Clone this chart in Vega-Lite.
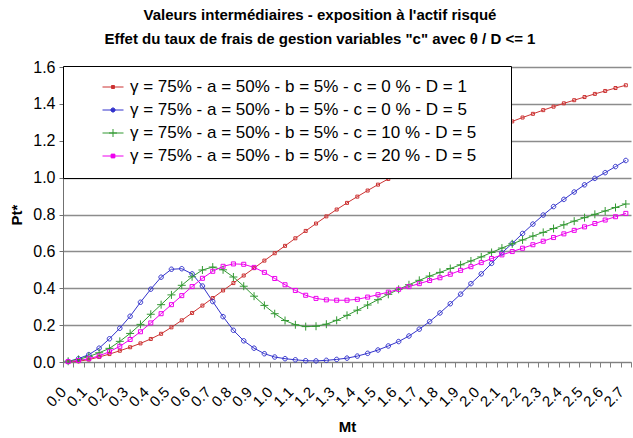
{
  "$schema": "https://vega.github.io/schema/vega-lite/v6.json",
  "width": 568,
  "height": 295,
  "autosize": {"type": "none"},
  "padding": {"left": 63, "top": 67, "right": 2, "bottom": 76},
  "background": "white",
  "title": {
    "text": ["Valeurs intermédiaires - exposition à l'actif risqué", "Effet du taux de frais de gestion variables \"c\" avec θ / D <= 1"],
    "anchor": "middle",
    "frame": "group",
    "dx": -27,
    "offset": 12,
    "fontSize": 15,
    "fontWeight": "bold",
    "font": "Liberation Sans",
    "lineHeight": 24,
    "color": "black"
  },
  "datasets": {
    "series": [
      {"key": "r", "serie": "γ = 75% - a = 50% - b = 5% - c = 0 % - D = 1"},
      {"key": "b", "serie": "γ = 75% - a = 50% - b = 5% - c = 0 % - D = 5"},
      {"key": "g", "serie": "γ = 75% - a = 50% - b = 5% - c = 10 % - D = 5"},
      {"key": "m", "serie": "γ = 75% - a = 50% - b = 5% - c = 20 % - D = 5"}
    ],
    "main": [
      {"Mt": 0, "r": 0.000, "b": 0.003, "g": 0.004, "m": 0.002},
      {"Mt": 0.05, "r": 0.004, "b": 0.018, "g": 0.014, "m": 0.008},
      {"Mt": 0.1, "r": 0.013, "b": 0.040, "g": 0.030, "m": 0.018},
      {"Mt": 0.15, "r": 0.027, "b": 0.075, "g": 0.050, "m": 0.033},
      {"Mt": 0.2, "r": 0.043, "b": 0.126, "g": 0.074, "m": 0.056},
      {"Mt": 0.25, "r": 0.061, "b": 0.183, "g": 0.112, "m": 0.085},
      {"Mt": 0.3, "r": 0.080, "b": 0.248, "g": 0.155, "m": 0.122},
      {"Mt": 0.35, "r": 0.101, "b": 0.324, "g": 0.204, "m": 0.164},
      {"Mt": 0.4, "r": 0.125, "b": 0.395, "g": 0.259, "m": 0.212},
      {"Mt": 0.45, "r": 0.153, "b": 0.460, "g": 0.311, "m": 0.262},
      {"Mt": 0.5, "r": 0.188, "b": 0.503, "g": 0.364, "m": 0.311},
      {"Mt": 0.55, "r": 0.226, "b": 0.506, "g": 0.416, "m": 0.360},
      {"Mt": 0.6, "r": 0.266, "b": 0.478, "g": 0.462, "m": 0.409},
      {"Mt": 0.65, "r": 0.306, "b": 0.412, "g": 0.499, "m": 0.454},
      {"Mt": 0.7, "r": 0.347, "b": 0.328, "g": 0.515, "m": 0.492},
      {"Mt": 0.75, "r": 0.388, "b": 0.246, "g": 0.500, "m": 0.519},
      {"Mt": 0.8, "r": 0.428, "b": 0.172, "g": 0.461, "m": 0.532},
      {"Mt": 0.85, "r": 0.469, "b": 0.115, "g": 0.411, "m": 0.530},
      {"Mt": 0.9, "r": 0.509, "b": 0.075, "g": 0.357, "m": 0.513},
      {"Mt": 0.95, "r": 0.550, "b": 0.045, "g": 0.307, "m": 0.486},
      {"Mt": 1, "r": 0.590, "b": 0.027, "g": 0.262, "m": 0.453},
      {"Mt": 1.05, "r": 0.630, "b": 0.018, "g": 0.225, "m": 0.419},
      {"Mt": 1.1, "r": 0.671, "b": 0.012, "g": 0.202, "m": 0.388},
      {"Mt": 1.15, "r": 0.711, "b": 0.007, "g": 0.192, "m": 0.362},
      {"Mt": 1.2, "r": 0.751, "b": 0.006, "g": 0.194, "m": 0.345},
      {"Mt": 1.25, "r": 0.790, "b": 0.009, "g": 0.205, "m": 0.337},
      {"Mt": 1.3, "r": 0.827, "b": 0.014, "g": 0.226, "m": 0.335},
      {"Mt": 1.35, "r": 0.863, "b": 0.021, "g": 0.253, "m": 0.335},
      {"Mt": 1.4, "r": 0.897, "b": 0.032, "g": 0.281, "m": 0.340},
      {"Mt": 1.45, "r": 0.930, "b": 0.047, "g": 0.309, "m": 0.352},
      {"Mt": 1.5, "r": 0.962, "b": 0.065, "g": 0.338, "m": 0.365},
      {"Mt": 1.55, "r": 0.993, "b": 0.087, "g": 0.367, "m": 0.379},
      {"Mt": 1.6, "r": 1.024, "b": 0.111, "g": 0.394, "m": 0.394},
      {"Mt": 1.65, "r": 1.054, "b": 0.141, "g": 0.419, "m": 0.409},
      {"Mt": 1.7, "r": 1.083, "b": 0.178, "g": 0.443, "m": 0.425},
      {"Mt": 1.75, "r": 1.111, "b": 0.219, "g": 0.466, "m": 0.442},
      {"Mt": 1.8, "r": 1.138, "b": 0.266, "g": 0.486, "m": 0.457},
      {"Mt": 1.85, "r": 1.164, "b": 0.316, "g": 0.507, "m": 0.476},
      {"Mt": 1.9, "r": 1.189, "b": 0.368, "g": 0.527, "m": 0.497},
      {"Mt": 1.95, "r": 1.213, "b": 0.425, "g": 0.548, "m": 0.517},
      {"Mt": 2, "r": 1.237, "b": 0.478, "g": 0.570, "m": 0.539},
      {"Mt": 2.05, "r": 1.260, "b": 0.535, "g": 0.594, "m": 0.561},
      {"Mt": 2.1, "r": 1.283, "b": 0.592, "g": 0.618, "m": 0.581},
      {"Mt": 2.15, "r": 1.305, "b": 0.643, "g": 0.641, "m": 0.599},
      {"Mt": 2.2, "r": 1.326, "b": 0.697, "g": 0.662, "m": 0.617},
      {"Mt": 2.25, "r": 1.346, "b": 0.748, "g": 0.683, "m": 0.636},
      {"Mt": 2.3, "r": 1.366, "b": 0.797, "g": 0.703, "m": 0.655},
      {"Mt": 2.35, "r": 1.385, "b": 0.843, "g": 0.724, "m": 0.675},
      {"Mt": 2.4, "r": 1.403, "b": 0.882, "g": 0.744, "m": 0.695},
      {"Mt": 2.45, "r": 1.420, "b": 0.922, "g": 0.764, "m": 0.714},
      {"Mt": 2.5, "r": 1.437, "b": 0.961, "g": 0.783, "m": 0.733},
      {"Mt": 2.55, "r": 1.454, "b": 0.996, "g": 0.801, "m": 0.751},
      {"Mt": 2.6, "r": 1.470, "b": 1.027, "g": 0.819, "m": 0.770},
      {"Mt": 2.65, "r": 1.486, "b": 1.060, "g": 0.838, "m": 0.788},
      {"Mt": 2.7, "r": 1.501, "b": 1.093, "g": 0.857, "m": 0.806}
    ]
  },
  "data": {"name": "main"},
  "transform": [
    {"fold": ["r", "b", "g", "m"], "as": ["key", "Pt"]},
    {"lookup": "key", "from": {"data": {"name": "series"}, "key": "key", "fields": ["serie"]}}
  ],
  "encoding": {
    "x": {
      "field": "Mt",
      "type": "ordinal",
      "bandPosition": 0.5,
      "scale": {"type": "band", "paddingInner": 0, "paddingOuter": 0},
      "axis": {
        "title": "Mt",
        "tickBand": "extent",
        "labelExpr": "round(datum.value * 20) % 2 == 0 ? format(datum.value, '.1f') : ''",
        "labelAngle": -45,
        "labelAlign": "right",
        "labelBaseline": "middle",
        "labelOverlap": false,
        "labelPadding": 22,
        "labelOffset": -5,
        "labelFontSize": 15,
        "tickSize": 5,
        "titleFontSize": 15,
        "titleFontWeight": "bold",
        "titlePadding": 10,
        "domainColor": "#808080",
        "tickColor": "#808080",
        "grid": false
      }
    },
    "y": {
      "field": "Pt",
      "type": "quantitative",
      "scale": {"domain": [0, 1.6], "nice": false},
      "axis": {
        "title": "Pt*",
        "values": [0, 0.2, 0.4, 0.6, 0.8, 1.0, 1.2, 1.4, 1.6],
        "format": ".1f",
        "grid": true,
        "gridColor": "#8c8c8c",
        "gridWidth": 1.5,
        "tickSize": 4,
        "labelPadding": 4,
        "labelFontSize": 16,
        "titleFontSize": 15,
        "titleFontWeight": "bold",
        "titlePadding": 8,
        "domainColor": "#707070",
        "tickColor": "#707070"
      }
    }
  },
  "layer": [
    {
      "mark": {"type": "line", "strokeWidth": 1},
      "encoding": {
        "color": {
          "field": "serie",
          "type": "nominal",
          "scale": {
            "domain": [
              "γ = 75% - a = 50% - b = 5% - c = 0 % - D = 1",
              "γ = 75% - a = 50% - b = 5% - c = 0 % - D = 5",
              "γ = 75% - a = 50% - b = 5% - c = 10 % - D = 5",
              "γ = 75% - a = 50% - b = 5% - c = 20 % - D = 5"
            ],
            "range": ["#cc3333", "#3333cc", "#339933", "#ee00ee"]
          },
          "legend": {
            "title": [" ", " "],
            "titleOrient": "right",
            "titleFontSize": 4,
            "titleLineHeight": 88,
            "titleBaseline": "top",
            "titleAnchor": "start",
            "titlePadding": 25,
            "orient": "none",
            "legendX": 0,
            "legendY": -1,
            "direction": "vertical",
            "fillColor": "white",
            "strokeColor": "black",
            "padding": 10,
            "cornerRadius": 0,
            "labelFontSize": 17,
            "labelColor": "black",
            "labelLimit": 700,
            "labelOffset": 6,
            "symbolOffset": 29,
            "symbolSize": 441,
            "symbolStrokeWidth": 1,
            "rowPadding": 4,
            "encode": {
              "symbols": {
                "update": {
                  "shape": {"signal": "datum.index == 0 ? 'M-1,0H1M-0.14,-0.14H0.14V0.14H-0.14Z' : datum.index == 1 ? 'M-1,0H1M0.2,0A0.2,0.2,0,1,1,-0.2,0A0.2,0.2,0,1,1,0.2,0' : datum.index == 2 ? 'M-1,0H1M0,-0.38V0.38M-0.38,0H0.38' : 'M-1,0H1M-0.18,-0.18H0.18V0.18H-0.18Z'"},
                  "fill": {"scale": "color", "field": "value"}
                }
              }
            }
          }
        }
      }
    },
    {
      "mark": {"type": "point", "filled": false, "size": 36, "strokeWidth": 1, "opacity": 1},
      "encoding": {
        "color": {"field": "serie", "type": "nominal", "legend": null},
        "shape": {
          "field": "key",
          "type": "nominal",
          "scale": {
            "domain": ["r", "b", "g", "m"],
            "range": [
              "M-0.5,-0.5H0.5V0.5H-0.5Z",
              "M0.75,0A0.75,0.75,0,1,1,-0.75,0A0.75,0.75,0,1,1,0.75,0",
              "M-1.33,0H1.33M0,-1.33V1.33",
              "M-0.67,-0.67H0.67V0.67H-0.67Z"
            ]
          },
          "legend": null
        }
      }
    }
  ],
  "config": {
    "font": "Liberation Sans",
    "view": {"stroke": null},
    "axis": {"labelColor": "black", "titleColor": "black", "labelFont": "Liberation Sans", "titleFont": "Liberation Sans"},
    "legend": {"labelFont": "Liberation Sans"}
  }
}
